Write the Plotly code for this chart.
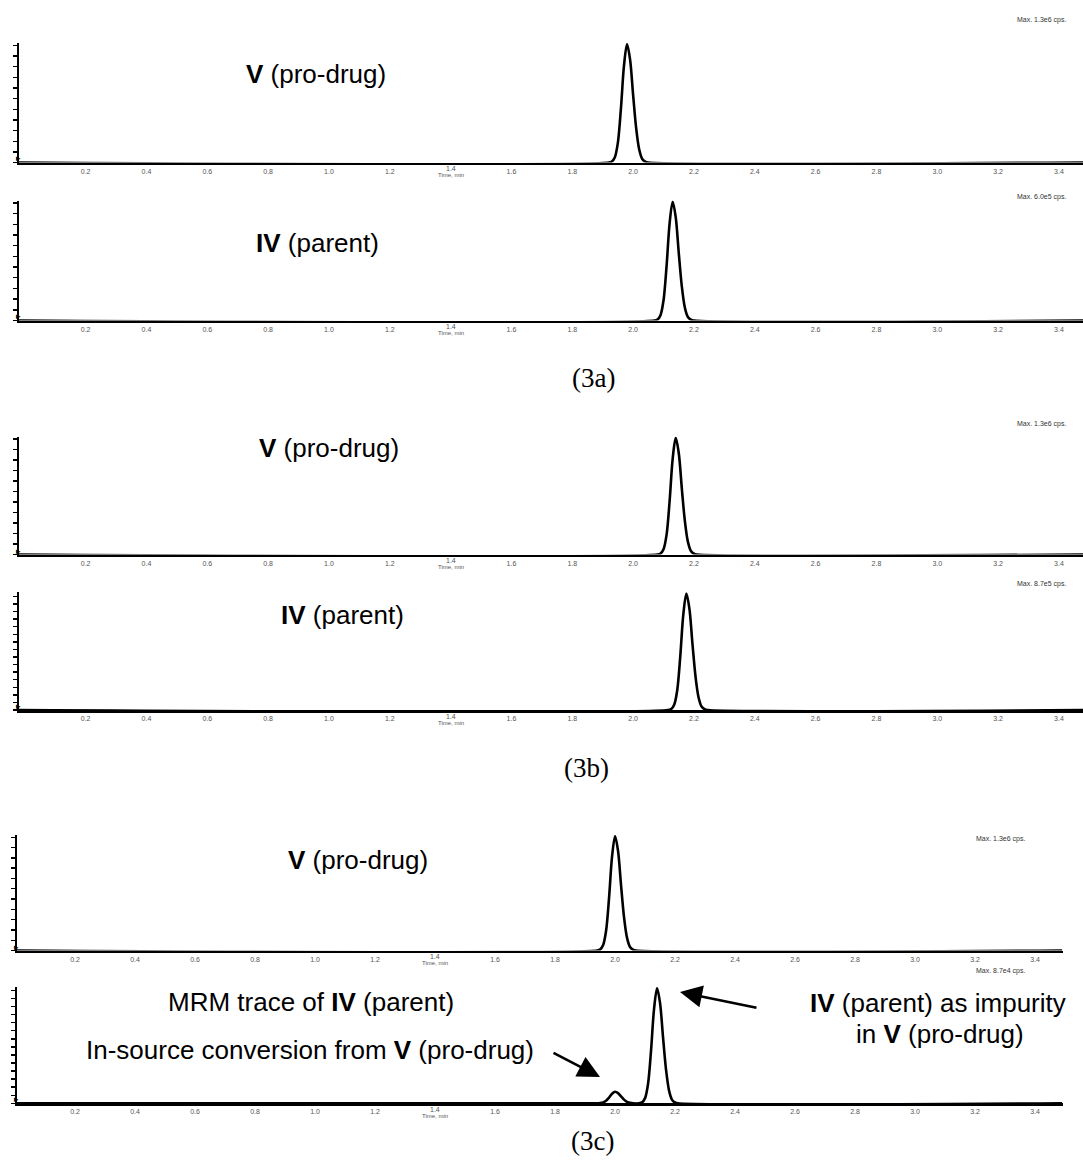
import plotly.graph_objects as go

W, H = 1083, 1161

# ---------------- data (relative intensity, % of panel max) ----------------
TICK_LABELS = ["0.2", "0.4", "0.6", "0.8", "1.0", "1.2", "1.4", "1.6", "1.8",
               "2.0", "2.2", "2.4", "2.6", "2.8", "3.0", "3.2", "3.4"]
AXIS_TITLE = "Time, min"
AXIS_TITLE_TICK = "1.4"

p1_time = [-0.02, 1.92, 1.93, 1.94, 1.95, 1.96, 1.97, 1.98, 1.99, 2.00, 2.01, 2.02, 2.03, 2.04, 2.05, 3.48]
p1_int = [0, 0, 0.8, 4.5, 17, 46, 82, 100, 87, 57, 29, 11, 3, 0.7, 0, 0]

p2_time = [-0.02, 2.07, 2.08, 2.09, 2.10, 2.11, 2.12, 2.13, 2.14, 2.15, 2.16, 2.17, 2.18, 2.19, 2.20, 3.48]
p2_int = [0, 0, 0.8, 4.5, 17, 46, 82, 100, 87, 57, 29, 11, 3, 0.7, 0, 0]

p3_time = [-0.02, 2.08, 2.09, 2.10, 2.11, 2.12, 2.13, 2.14, 2.15, 2.16, 2.17, 2.18, 2.19, 2.20, 2.21, 3.48]
p3_int = [0, 0, 0.8, 4.5, 17, 46, 82, 100, 87, 57, 29, 11, 3, 0.7, 0, 0]

p4_time = [-0.02, 2.115, 2.125, 2.135, 2.145, 2.155, 2.165, 2.175, 2.185, 2.195, 2.205, 2.215, 2.225, 2.235, 2.245, 3.48]
p4_int = [0, 0, 0.8, 4.5, 17, 46, 82, 100, 87, 57, 29, 11, 3, 0.7, 0, 0]

p5_time = [0.0, 1.94, 1.95, 1.96, 1.97, 1.98, 1.99, 2.00, 2.01, 2.02, 2.03, 2.04, 2.05, 2.06, 2.07, 3.49]
p5_int = [0, 0, 0.8, 4.5, 17, 46, 82, 100, 87, 57, 29, 11, 3, 0.7, 0, 0]

p6_time = [0.0, 1.94, 1.95, 1.96, 1.97, 1.98, 1.99, 2.00, 2.01, 2.02, 2.03, 2.04, 2.05, 2.06,
           2.08, 2.09, 2.10, 2.11, 2.12, 2.13, 2.14, 2.15, 2.16, 2.17, 2.18, 2.19, 2.20, 2.21, 3.49]
p6_int = [0, 0, 0.2, 0.8, 2.2, 5.0, 8.3, 10, 8.8, 6.0, 3.2, 1.3, 0.4, 0,
          0, 0.8, 4.5, 17, 46, 82, 100, 87, 57, 29, 11, 3, 0.7, 0, 0]

panel_labels = ["<b>V</b> (pro-drug)", "<b>IV</b> (parent)", "<b>V</b> (pro-drug)",
                "<b>IV</b> (parent)", "<b>V</b> (pro-drug)", "MRM trace of <b>IV</b> (parent)"]
max_labels = ["Max. 1.3e6 cps.", "Max. 6.0e5 cps.", "Max. 1.3e6 cps.",
              "Max. 8.7e5 cps.", "Max. 1.3e6 cps.", "Max. 8.7e4 cps."]
figure_labels = ["(3a)", "(3b)", "(3c)"]

traces = [(p1_time, p1_int), (p2_time, p2_int), (p3_time, p3_int),
          (p4_time, p4_int), (p5_time, p5_int), (p6_time, p6_int)]

# ---------------- layout geometry (pixels) ----------------
panel_px = [(43, 162.5), (200.5, 320.5), (436.7, 554.5), (592.3, 710), (835, 950.5), (987, 1103.3)]
xdom_px = [(19, 1083)] * 4 + [(17, 1063)] * 2
xranges = [[-0.019, 3.479]] * 4 + [[0.0067, 3.493]] * 2
ydticks = [9, 9, 9, 6.5, 9, 7]
label_pos = [(316, 74), (317, 243), (329, 448), (342, 615), (358, 860), (311, 1002)]
max_pos = [(1068, 20), (1068, 197), (1068, 424), (1068, 584), (1027, 839), (1027, 971)]
fig_label_pos = [(593, 378), (586, 768), (592, 1141)]
LABEL_SIZE = 26


def px(x):
    return x / W


def py(y):
    return 1 - y / H


fig = go.Figure()
annotations = []
layout = dict(width=W, height=H, autosize=False,
              margin=dict(l=0, r=0, t=0, b=0),
              paper_bgcolor="white", plot_bgcolor="white",
              showlegend=False,
              font=dict(family="Liberation Sans, Arial, sans-serif", color="black"))

tickvals = [float(t) for t in TICK_LABELS]
ticktext = ["" if t == AXIS_TITLE_TICK else t for t in TICK_LABELS]
tickfont = dict(size=7, color="#555", family="Liberation Sans, Arial")

for i, (tx, ty) in enumerate(traces):
    n = i + 1
    xa = "x" if n == 1 else f"x{n}"
    ya = "y" if n == 1 else f"y{n}"
    fig.add_trace(go.Scatter(x=tx, y=ty, xaxis=xa, yaxis=ya, mode="lines",
                             line=dict(color="black", width=2.6, shape="spline", smoothing=0.9),
                             hoverinfo="skip"))
    top, bot = panel_px[i]
    layout[f"xaxis{'' if n == 1 else n}"] = dict(
        domain=[px(xdom_px[i][0]), px(xdom_px[i][1])], range=xranges[i],
        anchor=ya, showline=True, linecolor="black", linewidth=2.6,
        showgrid=False, zeroline=False, ticks="", tickmode="array",
        tickvals=tickvals, ticktext=ticktext, tickfont=tickfont,
        fixedrange=True)
    layout[f"yaxis{'' if n == 1 else n}"] = dict(
        domain=[py(bot), py(top)], range=[0, 101], anchor=xa,
        showline=True, linecolor="black", linewidth=2,
        ticks="outside", ticklen=4, tickwidth=1.4, tickcolor="black",
        dtick=ydticks[i], tick0=0, showticklabels=False,
        showgrid=False, zeroline=False, fixedrange=True)
    # raised "1.4" tick label with "Time, min" under it
    annotations.append(dict(x=float(AXIS_TITLE_TICK), y=py(bot + 6), xref=xa, yref="paper",
                            text=AXIS_TITLE_TICK, showarrow=False, yanchor="middle",
                            font=tickfont))
    annotations.append(dict(x=float(AXIS_TITLE_TICK), y=py(bot + 12.5), xref=xa, yref="paper",
                            text=AXIS_TITLE, showarrow=False, yanchor="middle",
                            font=dict(size=6, color="#555")))
    # panel label
    lx, ly = label_pos[i]
    annotations.append(dict(x=px(lx), y=py(ly), xref="paper", yref="paper",
                            text=panel_labels[i], showarrow=False,
                            xanchor="center", yanchor="middle",
                            font=dict(size=LABEL_SIZE, color="black")))
    # Max cps label
    mx, my = max_pos[i]
    annotations.append(dict(x=px(mx), y=py(my), xref="paper", yref="paper",
                            text=max_labels[i], showarrow=False,
                            xanchor="right", yanchor="middle",
                            font=dict(size=7, color="#333")))
    # small zero marker at the bottom of the y axis
    annotations.append(dict(x=px(xdom_px[i][0] - 1), y=py(bot - 4), xref="paper", yref="paper",
                            text="\u25B8", showarrow=False, xanchor="center", yanchor="middle",
                            font=dict(size=9, color="black")))

# figure labels (3a) (3b) (3c)
for (fx, fy), t in zip(fig_label_pos, figure_labels):
    annotations.append(dict(x=px(fx), y=py(fy), xref="paper", yref="paper",
                            text=t, showarrow=False, xanchor="center", yanchor="middle",
                            font=dict(size=27, color="black",
                                      family="Liberation Serif, Times New Roman, serif")))

# extra annotations for panel 3c bottom
annotations.append(dict(x=px(310), y=py(1050), xref="paper", yref="paper",
                        text="In-source conversion from <b>V</b> (pro-drug)",
                        showarrow=False, xanchor="center", yanchor="middle",
                        font=dict(size=LABEL_SIZE, color="black")))
annotations.append(dict(x=px(1068), y=py(1003), xref="paper", yref="paper",
                        text="<b>IV</b> (parent) as impurity",
                        showarrow=False, xanchor="right", yanchor="middle",
                        font=dict(size=LABEL_SIZE, color="black")))
annotations.append(dict(x=px(1026), y=py(1034), xref="paper", yref="paper",
                        text="in <b>V</b> (pro-drug)",
                        showarrow=False, xanchor="right", yanchor="middle",
                        font=dict(size=LABEL_SIZE, color="black")))
# arrows
annotations.append(dict(x=px(600), y=py(1077), xref="paper", yref="paper",
                        ax=-48, ay=-25, text="", showarrow=True,
                        arrowhead=2, arrowsize=1.7, arrowwidth=2.6, arrowcolor="black"))
annotations.append(dict(x=px(680), y=py(992), xref="paper", yref="paper",
                        ax=78, ay=16, text="", showarrow=True,
                        arrowhead=2, arrowsize=1.7, arrowwidth=2.6, arrowcolor="black"))

layout["annotations"] = annotations
fig.update_layout(**layout)
fig.write_html("out.html",
               config={"displayModeBar": False, "staticPlot": True},
               post_script="document.body.style.margin='0';document.body.style.padding='0';")
